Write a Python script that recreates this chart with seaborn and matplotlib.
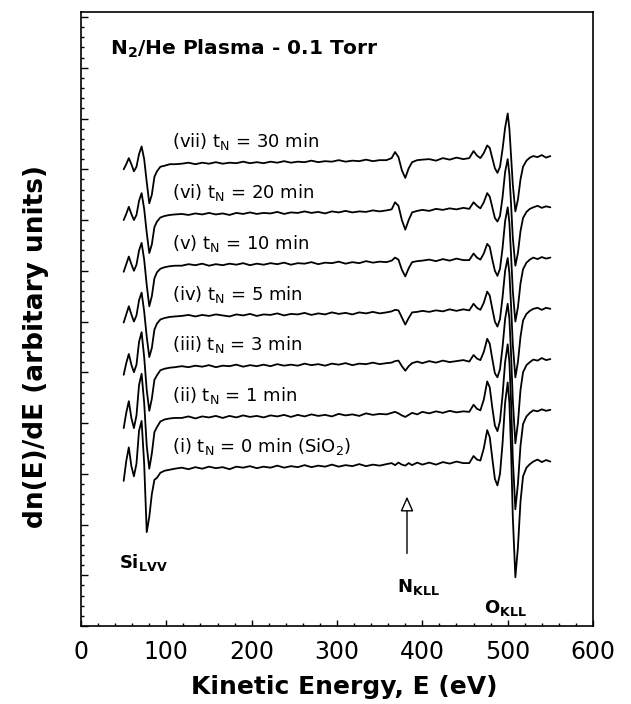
import numpy as np
import pandas as pd
import matplotlib
matplotlib.use("Agg")
import matplotlib.pyplot as plt
from matplotlib.ticker import MultipleLocator
import seaborn as sns

# kinetic energy grid (eV) shared by all spectra
energy = [50, 53, 56, 59, 62, 65, 68, 71, 74, 77, 80, 83, 86, 89, 93, 98, 104, 110,
          118, 126, 134, 142, 150, 158, 166, 174, 182, 190, 198, 206, 214, 222, 230, 238,
          246, 254, 262, 270, 278, 286, 294, 302, 310, 318, 326, 334, 342, 350, 358,
          364, 368, 372, 376, 380, 384, 388, 394, 400,
          408, 416, 424, 432, 440, 448,
          455, 460, 464, 468, 472, 476, 479, 482, 485, 488, 491, 494, 497, 500, 502, 504,
          506, 509, 512, 515, 518, 522, 526, 530, 535, 540, 545, 550]

# dN(E)/dE, relative to its own baseline
spec_i = [-0.24, 0.15, 0.42, 0.05, -0.15, 0.10, 0.75, 0.94, 0.10, -1.25, -0.95, -0.50, -0.22, -0.18, -0.08, -0.04, -0.02, 0.00,
          0.02, -0.01, 0.03, 0.00, 0.04, 0.01, 0.03, -0.01, 0.04, 0.02, 0.05, 0.01, 0.04, 0.02, 0.06, 0.02,
          0.05, 0.03, 0.07, 0.03, 0.06, 0.04, 0.08, 0.04, 0.07, 0.05, 0.09, 0.05, 0.08, 0.06, 0.09,
          0.11, 0.07, 0.12, 0.08, 0.06, 0.11, 0.07, 0.12, 0.08,
          0.12, 0.08, 0.13, 0.10, 0.14, 0.11,
          0.11, 0.25, 0.18, 0.16, 0.40, 0.76, 0.62, 0.20, -0.20, -0.33, -0.10, 0.50, 1.30, 1.70, 1.30, 0.35,
          -0.95, -2.14, -1.55, -0.65, -0.15, 0.02, 0.09, 0.14, 0.18, 0.13, 0.17, 0.14]
spec_ii = [-0.20, 0.10, 0.33, 0.00, -0.20, 0.05, 0.65, 0.87, 0.30, -0.55, -1.00, -0.70, -0.28, -0.18, -0.07, -0.03, -0.01, 0.00,
           0.00, 0.03, -0.01, 0.03, 0.01, 0.04, 0.00, 0.04, 0.01, 0.05, 0.02, 0.04, 0.01, 0.05, 0.03, 0.06,
           0.02, 0.06, 0.03, 0.07, 0.04, 0.06, 0.03, 0.08, 0.05, 0.07, 0.04, 0.09, 0.06, 0.08, 0.07,
           0.10, 0.12, 0.09, 0.05, 0.02, 0.06, 0.10, 0.07, 0.12,
           0.09, 0.13, 0.10, 0.14, 0.11, 0.13,
           0.12, 0.26, 0.18, 0.15, 0.36, 0.72, 0.60, 0.20, -0.15, -0.26, -0.06, 0.45, 1.10, 1.45, 1.10, 0.30,
           -0.80, -1.80, -1.30, -0.55, -0.12, 0.03, 0.10, 0.15, 0.13, 0.17, 0.14, 0.16]
spec_iii = [-0.15, 0.08, 0.26, 0.05, -0.10, 0.05, 0.50, 0.69, 0.20, -0.45, -0.86, -0.62, -0.25, -0.16, -0.06, -0.03, -0.01, 0.00,
            0.02, 0.00, 0.03, 0.01, 0.04, 0.00, 0.03, 0.02, 0.05, 0.01, 0.04, 0.02, 0.05, 0.02, 0.06, 0.03,
            0.05, 0.03, 0.07, 0.04, 0.06, 0.03, 0.07, 0.05, 0.08, 0.04, 0.07, 0.06, 0.09, 0.06, 0.08,
            0.09, 0.12, 0.13, 0.02, -0.07, 0.02, 0.08, 0.11, 0.08,
            0.12, 0.09, 0.13, 0.10, 0.12, 0.14,
            0.11, 0.24, 0.17, 0.14, 0.30, 0.56, 0.46, 0.16, -0.12, -0.20, -0.04, 0.40, 0.95, 1.25, 0.95, 0.25,
            -0.65, -1.50, -1.10, -0.45, -0.10, 0.04, 0.10, 0.15, 0.13, 0.18, 0.14, 0.16]
spec_iv = [-0.12, 0.04, 0.20, 0.04, -0.10, 0.02, 0.32, 0.47, 0.10, -0.40, -0.80, -0.62, -0.26, -0.14, -0.06, -0.03, -0.01, 0.00,
           0.01, 0.03, 0.00, 0.03, 0.01, 0.04, 0.02, 0.00, 0.04, 0.02, 0.05, 0.01, 0.04, 0.03, 0.06, 0.02,
           0.05, 0.04, 0.07, 0.03, 0.06, 0.04, 0.08, 0.05, 0.07, 0.04, 0.08, 0.06, 0.09, 0.06, 0.08,
           0.10, 0.13, 0.12, -0.02, -0.16, -0.03, 0.08, 0.09, 0.11,
           0.09, 0.12, 0.10, 0.14, 0.11, 0.14,
           0.12, 0.25, 0.17, 0.13, 0.27, 0.49, 0.41, 0.15, -0.10, -0.20, -0.05, 0.38, 0.90, 1.15, 0.85, 0.20,
           -0.55, -1.20, -0.90, -0.40, -0.08, 0.05, 0.11, 0.15, 0.17, 0.13, 0.17, 0.15]
spec_v = [-0.12, 0.03, 0.18, 0.03, -0.10, 0.02, 0.30, 0.45, 0.12, -0.38, -0.80, -0.60, -0.25, -0.13, -0.06, -0.03, -0.01, 0.00,
          0.00, 0.03, 0.01, 0.04, 0.00, 0.03, 0.01, 0.04, 0.02, 0.05, 0.01, 0.04, 0.02, 0.05, 0.03, 0.06,
          0.02, 0.05, 0.04, 0.07, 0.03, 0.06, 0.05, 0.08, 0.04, 0.07, 0.05, 0.09, 0.06, 0.08, 0.07,
          0.10, 0.16, 0.12, -0.08, -0.21, -0.05, 0.07, 0.09, 0.10,
          0.12, 0.09, 0.13, 0.10, 0.14, 0.11,
          0.11, 0.24, 0.16, 0.12, 0.24, 0.43, 0.37, 0.12, -0.10, -0.20, -0.06, 0.35, 0.88, 1.15, 0.85, 0.20,
          -0.50, -1.10, -0.82, -0.35, -0.07, 0.06, 0.12, 0.16, 0.13, 0.17, 0.14, 0.16]
spec_vi = [-0.10, 0.02, 0.16, 0.02, -0.10, 0.00, 0.28, 0.43, 0.12, -0.35, -0.75, -0.58, -0.24, -0.13, -0.05, -0.02, 0.00, 0.01,
           0.02, 0.00, 0.03, 0.01, 0.04, 0.01, 0.03, 0.00, 0.04, 0.02, 0.05, 0.02, 0.04, 0.03, 0.06, 0.02,
           0.05, 0.04, 0.07, 0.04, 0.06, 0.03, 0.07, 0.05, 0.08, 0.05, 0.07, 0.06, 0.09, 0.07, 0.09,
           0.11, 0.25, 0.18, -0.10, -0.29, -0.10, 0.05, 0.08, 0.10,
           0.08, 0.12, 0.10, 0.13, 0.11, 0.14,
           0.12, 0.25, 0.18, 0.13, 0.25, 0.43, 0.36, 0.15, -0.06, -0.13, -0.02, 0.35, 0.85, 1.10, 0.80, 0.20,
           -0.45, -1.00, -0.75, -0.32, -0.06, 0.06, 0.12, 0.15, 0.18, 0.14, 0.17, 0.15]
spec_vii = [-0.10, 0.00, 0.12, 0.00, -0.14, -0.05, 0.20, 0.35, 0.10, -0.35, -0.77, -0.60, -0.25, -0.14, -0.05, -0.03, 0.00, 0.00,
            0.01, 0.03, 0.00, 0.03, 0.01, 0.04, 0.01, 0.03, 0.02, 0.05, 0.02, 0.04, 0.02, 0.05, 0.03, 0.06,
            0.03, 0.05, 0.04, 0.07, 0.04, 0.06, 0.05, 0.08, 0.05, 0.07, 0.06, 0.09, 0.06, 0.08, 0.08,
            0.12, 0.24, 0.14, -0.12, -0.27, -0.08, 0.04, 0.08, 0.09,
            0.10, 0.07, 0.12, 0.09, 0.13, 0.10,
            0.12, 0.26, 0.17, 0.12, 0.22, 0.37, 0.32, 0.12, -0.08, -0.17, -0.05, 0.30, 0.72, 1.00, 0.70, 0.15,
            -0.40, -0.93, -0.70, -0.30, -0.05, 0.07, 0.13, 0.16, 0.14, 0.18, 0.13, 0.16]

numerals = ["i", "ii", "iii", "iv", "v", "vi", "vii"]
times = [0, 1, 3, 5, 10, 20, 30]
spectra = [spec_i, spec_ii, spec_iii, spec_iv, spec_v, spec_vi, spec_vii]

sns.set_style("ticks")
plt.rcParams.update({
    "mathtext.default": "regular",
    "mathtext.fontset": "dejavusans",
    "text.color": "black",
    "axes.labelcolor": "black",
    "axes.edgecolor": "black",
    "xtick.color": "black",
    "ytick.color": "black",
})

frames = []
for k, vals in enumerate(spectra):
    frames.append(pd.DataFrame({"E": energy,
                                "dNdE": np.array(vals) + 3.1 + k,
                                "curve": numerals[k]}))
df = pd.concat(frames, ignore_index=True)

fig = plt.figure(figsize=(6.31, 7.04), dpi=100)
ax = fig.add_axes([0.1284, 0.1108, 0.8114, 0.8722])
sns.lineplot(data=df, x="E", y="dNdE", units="curve", estimator=None, sort=False,
             color="black", linewidth=1.3, legend=False, ax=ax)

ax.set_xlim(0, 600)
ax.set_ylim(0, 12.1)
ax.xaxis.set_major_locator(MultipleLocator(100))
ax.xaxis.set_minor_locator(MultipleLocator(20))
ax.yaxis.set_major_locator(MultipleLocator(1))
ax.yaxis.set_minor_locator(MultipleLocator(0.2))
ax.tick_params(axis="both", which="both", direction="in", top=False, right=False, width=1)
ax.tick_params(axis="x", which="major", length=4, labelsize=17, pad=10)
ax.tick_params(axis="x", which="minor", length=2)
ax.tick_params(axis="y", which="major", length=5, labelleft=False)
ax.tick_params(axis="y", which="minor", length=2.5)
for s in ax.spines.values():
    s.set_linewidth(1.2)

ax.set_xlabel("Kinetic Energy, E (eV)", fontsize=18, fontweight="bold")
ax.set_ylabel("dn(E)/dE (arbitary units)", fontsize=19, fontweight="bold")
ax.xaxis.set_label_coords(0.514, -0.08)
ax.yaxis.set_label_coords(-0.062, 0.455)

# trace labels
for k in range(len(spectra)):
    txt = "(%s) t$_N$ = %d min" % (numerals[k], times[k])
    if k == 0:
        txt += " (SiO$_2$)"
    ax.text(107, 3.1 + k + 0.33, txt, fontsize=13, va="baseline", ha="left")

ax.text(34, 11.25, r"N$_\mathbf{2}$/He Plasma - 0.1 Torr", fontsize=14.5, fontweight="bold", va="baseline")
ax.text(45, 1.14, r"Si$_\mathbf{LVV}$", fontsize=13, fontweight="bold", va="baseline")
ax.text(370, 0.67, r"N$_\mathbf{KLL}$", fontsize=13, fontweight="bold", va="baseline")
ax.text(472, 0.26, r"O$_\mathbf{KLL}$", fontsize=13, fontweight="bold", va="baseline")
ax.annotate("", xy=(382, 2.55), xytext=(382, 1.43),
            arrowprops=dict(arrowstyle="-|>,head_length=0.45,head_width=0.2", mutation_scale=20,
                            fc="white", ec="black", lw=1.0, shrinkA=0, shrinkB=0))

fig.savefig("out.png", dpi=100)
